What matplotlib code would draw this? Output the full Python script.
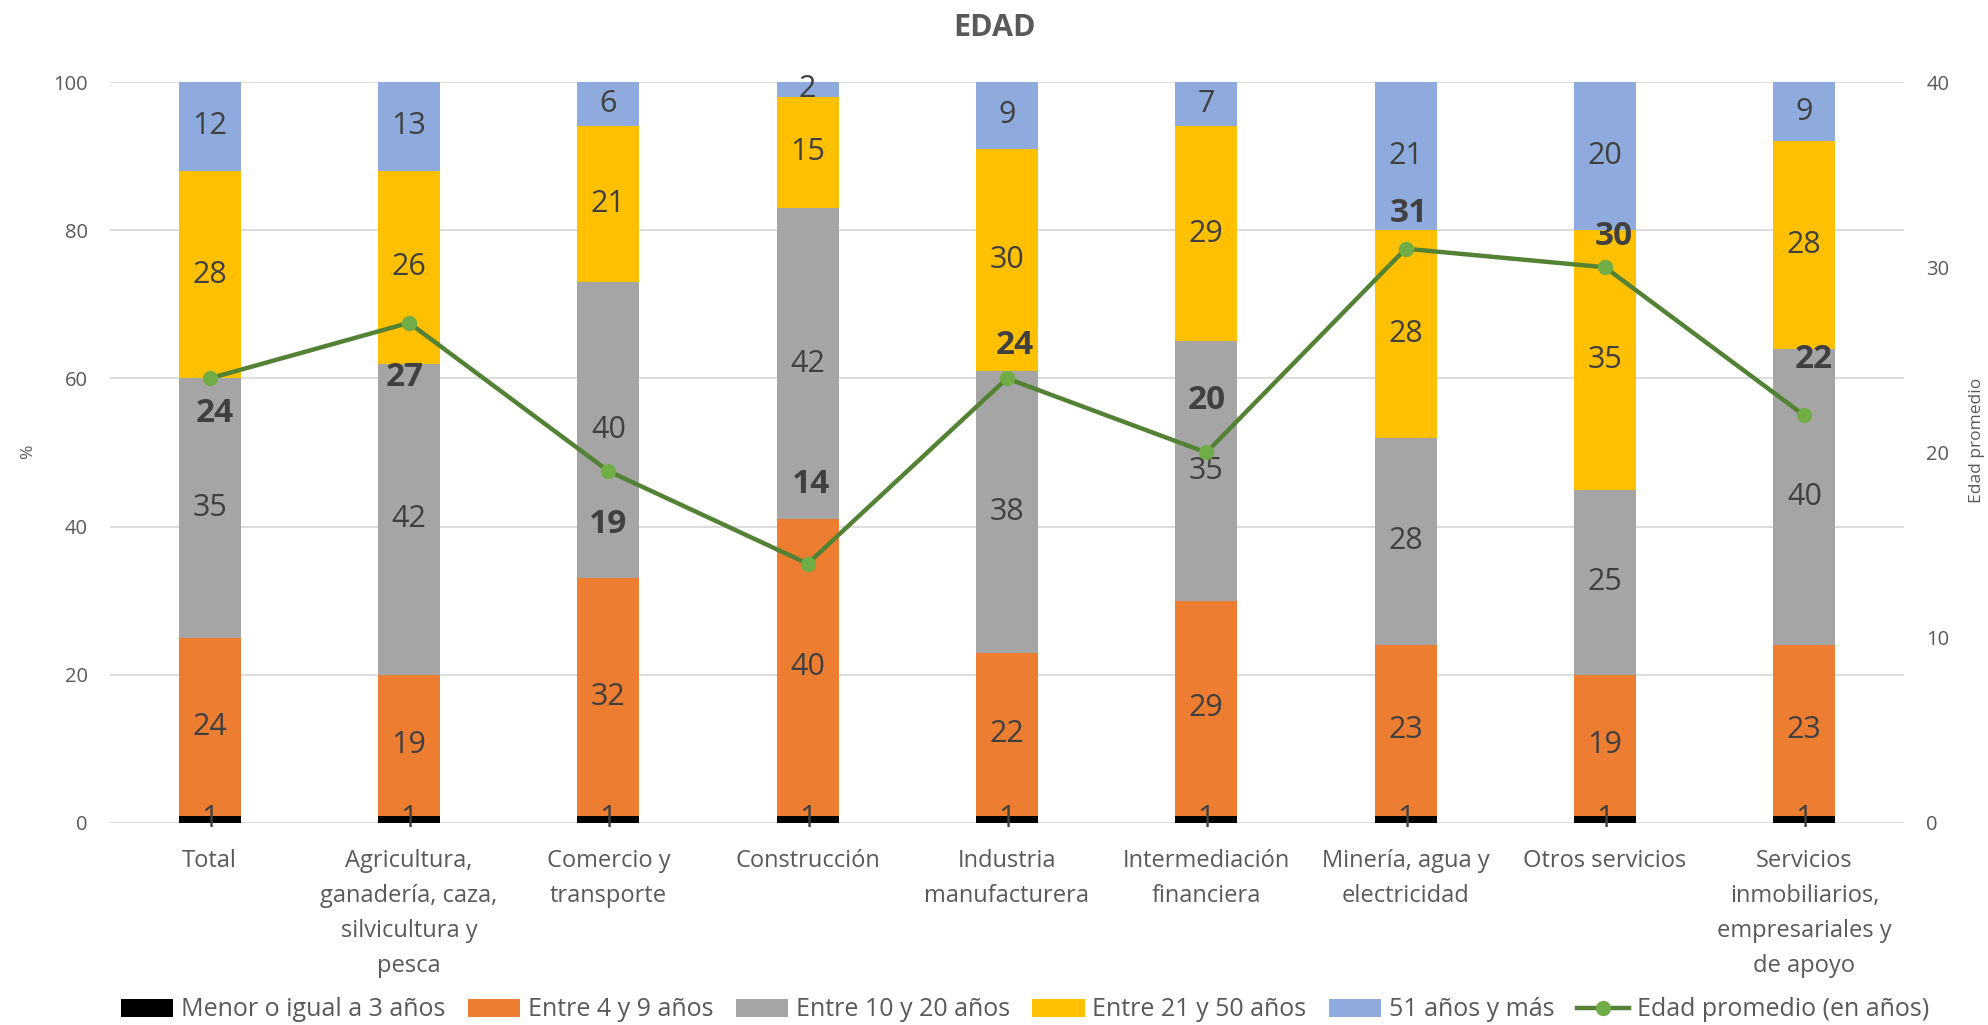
"""Stacked bars of age groups by sector with average age line (EDAD)."""

import matplotlib
matplotlib.use("Agg")
import matplotlib.pyplot as plt
from matplotlib.lines import Line2D
from matplotlib.patches import Patch
import numpy as np

plt.rcParams["font.family"] = ["Open Sans", "DejaVu Sans"]

# Data
sectors = [
    "Total",
    "Agricultura,\nganadería, caza,\nsilvicultura y\npesca",
    "Comercio y\ntransporte",
    "Construcción",
    "Industria\nmanufacturera",
    "Intermediación\nfinanciera",
    "Minería, agua y\nelectricidad",
    "Otros servicios",
    "Servicios\ninmobiliarios,\nempresariales y\nde apoyo",
]
group_names = [
    "Menor o igual a 3 años",
    "Entre 4 y 9 años",
    "Entre 10 y 20 años",
    "Entre 21 y 50 años",
    "51 años y más",
]
menor_3 = [1, 1, 1, 1, 1, 1, 1, 1, 1]
entre_4_9 = [24, 19, 32, 40, 22, 29, 23, 19, 23]
entre_10_20 = [35, 42, 40, 42, 38, 35, 28, 25, 40]
entre_21_50 = [28, 26, 21, 15, 30, 29, 28, 35, 28]
mas_51 = [12, 13, 6, 2, 9, 7, 21, 20, 9]
edad_promedio = [24, 27, 19, 14, 24, 20, 31, 30, 22]
line_name = "Edad promedio (en años)"

# Styling
colors = ["#000000", "#ED7D31", "#A5A5A5", "#FFC000", "#8FAADC"]
line_color = "#548235"
marker_color = "#70AD47"
text_color = "#404040"
tick_color = "#595959"
# label offsets for the average labels (pixels: dx, dy)
avg_offsets = [(5, -35), (-4, -55), (0, -53), (3, 79), (8, 33),
               (0, 52), (3, 35), (9, 31), (9, 56)]

W, H = 1988, 1025
fig = plt.figure(figsize=(W / 100, H / 100), dpi=100)
ax = fig.add_axes([110 / W, 1 - 823 / H, (1904 - 110) / W, (823 - 82) / H])
ax2 = ax.twinx()

x = np.arange(len(sectors))
series = [menor_3, entre_4_9, entre_10_20, entre_21_50, mas_51]
bottom = np.zeros(len(sectors))
for vals, col in zip(series, colors):
    vals = np.asarray(vals, dtype=float)
    ax.bar(x, vals, width=0.31, bottom=bottom, color=col, zorder=2)
    top = np.minimum(bottom + vals, 100)
    centers = (bottom + top) / 2
    for xi, yc, v in zip(x, centers, vals):
        ax.text(xi, yc, f"{v:.0f}", ha="center", va="center",
                fontsize=22, color=text_color, zorder=3)
    bottom += vals

ax.set_xlim(-0.5, len(sectors) - 0.5)
ax.set_ylim(0, 100)
ax.set_yticks(range(0, 101, 20))
ax.yaxis.grid(True, color="#D9D9D9", linewidth=1.3)
ax.set_axisbelow(True)
ax.set_xticks(x)
ax.set_xticklabels(sectors, fontsize=17, color=tick_color, linespacing=1.6)
ax.tick_params(axis="x", length=0, pad=19)
ax.tick_params(axis="y", length=0, pad=16, labelsize=14.5, labelcolor=tick_color)

ax2.plot(x, edad_promedio, color=line_color, linewidth=3.2,
         marker="o", markersize=10, markerfacecolor=marker_color,
         markeredgecolor=marker_color, zorder=4)
ax2.set_ylim(0, 40)
ax2.set_yticks(range(0, 41, 10))
ax2.tick_params(axis="y", length=0, pad=16, labelsize=14.5, labelcolor=tick_color)
for xi, v, (dx, dy) in zip(x, edad_promedio, avg_offsets):
    ax2.annotate(f"{v}", (xi, v), xytext=(dx, dy), textcoords="offset pixels",
                 ha="center", va="center", fontsize=24, fontweight="bold",
                 color=text_color, zorder=5)

for a in (ax, ax2):
    for s in a.spines.values():
        s.set_visible(False)

fig.text(0.5, 1 - 28 / H, "EDAD", ha="center", va="center",
         fontsize=22, fontweight="bold", color=tick_color)
fig.text(28 / W, 1 - 452 / H, "%", rotation=90, ha="center", va="center",
         fontsize=12.5, color=tick_color)
fig.text(1977 / W, 1 - 440 / H, "Edad promedio", rotation=90,
         ha="center", va="center", fontsize=12.5, color=tick_color)

handles = [Patch(facecolor=c, edgecolor="none") for c in colors]
handles.append(Line2D([], [], color=line_color, linewidth=3.2, marker="o",
                      markersize=10, markerfacecolor=marker_color,
                      markeredgecolor=marker_color))
fig.legend(handles, group_names + [line_name], loc="center",
           bbox_to_anchor=(1025 / W, 1 - 1010 / H), ncol=6, frameon=False,
           fontsize=18, handlelength=2.1, handleheight=0.7,
           handletextpad=0.3, columnspacing=0.9, labelcolor=tick_color,
           borderaxespad=0)

fig.savefig("out.png", dpi=100)
